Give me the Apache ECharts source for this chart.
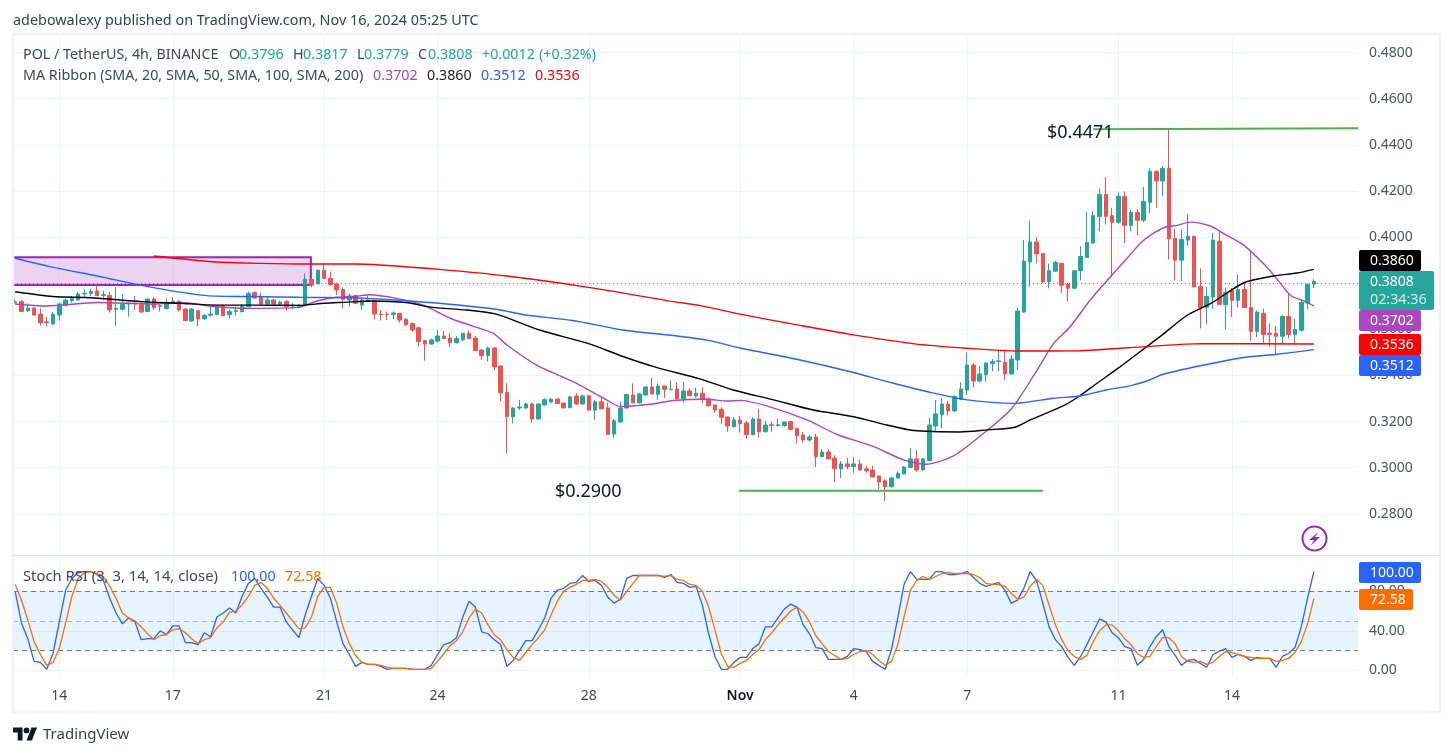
<!DOCTYPE html>
<html>
<head>
<meta charset="utf-8">
<title>POL / TetherUS 4h</title>
<script src="https://cdn.jsdelivr.net/npm/echarts@6/dist/echarts.min.js"></script>
<style>
html,body{margin:0;padding:0;background:#fff}
#chart{width:1453px;height:756px}
</style>
</head>
<body>
<div id="chart"></div>
<script>
// 4h candles, oldest first: [open, close, low, high]
const candles = [
[.3716,.3720,.3710,.3731],[.3720,.3677,.3674,.3727],[.3681,.3692,.3674,.3713],[.3692,.3662,.3660,.3698],
[.3666,.3629,.3616,.3691],[.3633,.3629,.3612,.3655],[.3623,.3666,.3620,.3675],[.3662,.3710,.3638,.3716],
[.3705,.3727,.3698,.3733],[.3724,.3733,.3716,.3745],[.3727,.3753,.3724,.3762],[.3753,.3756,.3739,.3773],
[.3756,.3765,.3745,.3776],[.3766,.3746,.3745,.3791],[.3747,.3750,.3727,.3768],[.3747,.3684,.3672,.3763],
[.3687,.3691,.3614,.3782],[.3687,.3708,.3681,.3753],[.3710,.3713,.3655,.3716],[.3713,.3710,.3684,.3745],
[.3707,.3675,.3672,.3720],[.3677,.3731,.3674,.3734],[.3731,.3694,.3684,.3739],[.3703,.3700,.3677,.3713],
[.3690,.3717,.3687,.3734],[.3716,.3721,.3710,.3739],[.3721,.3684,.3677,.3727],[.3688,.3638,.3636,.3691],
[.3636,.3688,.3632,.3691],[.3681,.3645,.3614,.3684],[.3646,.3661,.3640,.3665],[.3661,.3666,.3655,.3698],
[.3664,.3701,.3661,.3704],[.3701,.3659,.3658,.3707],[.3664,.3677,.3646,.3687],[.3678,.3681,.3661,.3698],
[.3677,.3701,.3672,.3710],[.3698,.3756,.3695,.3763],[.3759,.3736,.3733,.3765],[.3739,.3710,.3705,.3759],
[.3710,.3727,.3705,.3742],[.3727,.3710,.3705,.3731],[.3710,.3718,.3701,.3724],[.3720,.3698,.3681,.3727],
[.3701,.3705,.3687,.3713],[.3695,.3705,.3691,.3710],[.3704,.3817,.3701,.3843],[.3817,.3792,.3782,.3825],
[.3797,.3856,.3795,.3860],[.3856,.3821,.3817,.3879],[.3821,.3794,.3788,.3850],[.3797,.3771,.3749,.3802],
[.3773,.3730,.3690,.3782],[.3727,.3745,.3698,.3756],[.3747,.3713,.3710,.3749],[.3705,.3727,.3684,.3739],
[.3727,.3720,.3718,.3749],[.3723,.3666,.3643,.3727],[.3666,.3664,.3638,.3684],[.3666,.3664,.3640,.3677],
[.3665,.3671,.3643,.3678],[.3669,.3640,.3629,.3672],[.3643,.3620,.3614,.3649],[.3625,.3597,.3590,.3629],
[.3607,.3547,.3525,.3609],[.3551,.3536,.3464,.3554],[.3536,.3554,.3534,.3560],[.3549,.3571,.3542,.3597],
[.3571,.3560,.3558,.3593],[.3562,.3542,.3523,.3583],[.3542,.3560,.3539,.3571],[.3554,.3583,.3548,.3584],
[.3583,.3560,.3557,.3596],[.3562,.3508,.3506,.3571],[.3510,.3486,.3467,.3513],[.3486,.3519,.3460,.3525],
[.3519,.3437,.3421,.3525],[.3441,.3325,.3289,.3444],[.3327,.3221,.3061,.3366],[.3221,.3259,.3191,.3262],
[.3259,.3263,.3250,.3294],[.3259,.3276,.3255,.3281],[.3276,.3211,.3195,.3282],[.3211,.3276,.3210,.3278],
[.3272,.3295,.3270,.3301],[.3285,.3297,.3279,.3302],[.3298,.3278,.3276,.3301],[.3280,.3259,.3258,.3282],
[.3260,.3307,.3259,.3312],[.3311,.3276,.3273,.3323],[.3276,.3311,.3275,.3317],[.3312,.3250,.3246,.3316],
[.3250,.3286,.3207,.3294],[.3286,.3255,.3254,.3308],[.3259,.3145,.3142,.3282],[.3146,.3203,.3130,.3211],
[.3198,.3259,.3196,.3286],[.3259,.3317,.3256,.3318],[.3315,.3281,.3279,.3366],[.3281,.3320,.3279,.3325],
[.3315,.3350,.3312,.3351],[.3350,.3320,.3318,.3389],[.3318,.3354,.3294,.3366],[.3354,.3340,.3302,.3356],
[.3338,.3340,.3337,.3379],[.3341,.3298,.3297,.3369],[.3298,.3333,.3282,.3372],[.3333,.3312,.3311,.3344],
[.3311,.3323,.3304,.3347],[.3323,.3297,.3279,.3349],[.3298,.3269,.3265,.3304],[.3272,.3250,.3239,.3272],
[.3253,.3219,.3190,.3262],[.3220,.3181,.3155,.3221],[.3178,.3207,.3174,.3219],[.3207,.3191,.3152,.3224],
[.3194,.3143,.3126,.3203],[.3143,.3211,.3142,.3219],[.3211,.3156,.3130,.3255],[.3156,.3185,.3153,.3203],
[.3186,.3183,.3156,.3200],[.3183,.3186,.3178,.3211],[.3183,.3198,.3177,.3200],[.3200,.3166,.3164,.3203],
[.3169,.3138,.3107,.3174],[.3142,.3120,.3109,.3155],[.3120,.3133,.3113,.3142],[.3133,.3048,.3003,.3146],
[.3048,.3068,.3045,.3080],[.3068,.3038,.3036,.3081],[.3042,.2995,.2938,.3054],[.2995,.3016,.2955,.3029],
[.3016,.3005,.2993,.3042],[.3005,.3016,.2977,.3047],[.3016,.2990,.2987,.3034],[.2995,.2987,.2979,.3009],
[.2990,.2960,.2958,.3008],[.2964,.2938,.2906,.2965],[.2943,.2917,.2856,.2950],[.2917,.2955,.2915,.2961],
[.2955,.2976,.2953,.2984],[.2973,.3003,.2971,.3008],[.3001,.3038,.2999,.3086],[.3038,.2990,.2982,.3077],
[.2990,.3038,.2987,.3041],[.3031,.3185,.3029,.3216],[.3181,.3233,.3161,.3294],[.3229,.3276,.3172,.3301],
[.3276,.3246,.3226,.3289],[.3246,.3308,.3242,.3314],[.3297,.3341,.3294,.3370],[.3337,.3445,.3315,.3500],
[.3445,.3376,.3350,.3453],[.3376,.3406,.3369,.3441],[.3403,.3454,.3373,.3457],[.3451,.3460,.3419,.3471],
[.3460,.3463,.3419,.3510],[.3457,.3406,.3380,.3510],[.3406,.3471,.3404,.3489],[.3467,.3679,.3424,.3695],
[.3675,.3896,.3671,.3987],[.3892,.3979,.3784,.4070],[.3979,.3927,.3886,.4000],[.3928,.3805,.3801,.3931],
[.3807,.3854,.3778,.3885],[.3852,.3890,.3850,.3896],[.3886,.3791,.3758,.3888],[.3796,.3778,.3721,.3801],
[.3778,.3854,.3775,.3856],[.3854,.3916,.3812,.3960],[.3912,.3977,.3911,.4109],[.3974,.4093,.3971,.4112],
[.4090,.4185,.4025,.4210],[.4185,.4090,.4055,.4260],[.4093,.4064,.3827,.4127],[.4064,.4177,.4058,.4194],
[.4177,.4051,.3974,.4198],[.4051,.4107,.4025,.4118],[.4107,.4073,.4007,.4122],[.4073,.4155,.4065,.4217],
[.4151,.4285,.4104,.4298],[.4285,.4243,.4127,.4289],[.4243,.4298,.4177,.4307],[.4298,.3992,.3902,.4471],
[.3994,.3900,.3812,.4035],[.3900,.3989,.3810,.4032],[.3987,.4003,.3961,.4099],[.4003,.3784,.3782,.4007],
[.3786,.3694,.3604,.3864],[.3696,.3743,.3622,.3784],[.3740,.3986,.3688,.4018],[.3982,.3708,.3707,.4026],
[.3708,.3760,.3600,.3781],[.3768,.3726,.3653,.3779],[.3726,.3772,.3694,.3838],[.3773,.3695,.3694,.3805],
[.3695,.3591,.3549,.3937],[.3591,.3675,.3567,.3682],[.3669,.3578,.3538,.3690],[.3583,.3578,.3526,.3625],
[.3583,.3570,.3492,.3613],[.3570,.3656,.3538,.3661],[.3656,.3578,.3560,.3755],[.3578,.3600,.3535,.3646],
[.3596,.3717,.3594,.3729],[.3714,.3795,.3687,.3798],[.3796,.3808,.3779,.3817]
];

// Moving averages as [candle number, value]
const sma20 = [[0,.3710],[5,.3701],[13,.3716],[22,.3710],[26,.3716],[32,.3698],[38,.3691],[45,.3695],[46,.3704],[48,.3724],[51,.3739],[54,.3743],[56.2,.3750],[60.5,.3734],[64.7,.3705],[69,.3648],[72.6,.3614],[75.8,.3583],[78,.3532],[82.7,.3445],[88.5,.3373],[93.8,.3294],[96,.3265],[100.7,.3275],[104.4,.3291],[109.7,.3297],[112.9,.3289],[115,.3292],[119.2,.3268],[125.6,.3207],[130.3,.3145],[136.2,.3091],[140.9,.3034],[144.6,.3015],[148.9,.3052],[153.6,.3149],[158.1,.3258],[162.3,.3432],[164.7,.3538],[167.3,.3610],[170.5,.3726],[173.7,.3827],[176.3,.3906],[179,.3986],[182.2,.4041],[184.3,.4051],[186.4,.4065],[189.6,.4048],[191.7,.4015],[194.9,.3964],[198,.3885],[200.1,.3820],[202.3,.3747],[204.4,.3723],[206,.3702]];
const sma50 = [[0,.3763],[6,.3742],[12,.3737],[20,.3720],[26,.3713],[32,.3705],[38,.3705],[45,.3704],[49,.3713],[52,.3717],[56.8,.3723],[62,.3716],[66.2,.3695],[71.6,.3684],[76.3,.3666],[83.2,.3597],[91.2,.3536],[96.4,.3482],[101.7,.3435],[108.6,.3385],[113.9,.3337],[120.3,.3294],[126.6,.3250],[133,.3221],[138.3,.3185],[142.5,.3161],[149.9,.3155],[154.2,.3164],[158.4,.3174],[161,.3207],[166.3,.3269],[168.9,.3312],[171.6,.3366],[175.3,.3438],[179.5,.3525],[181.9,.3575],[185.9,.3661],[189.6,.3711],[194.9,.3802],[199.6,.3831],[203.3,.3844],[206,.3860]];
const sma100 = [[0,.3908],[5.5,.3872],[13.4,.3829],[21,.3785],[30.4,.3746],[37.8,.3742],[45,.3739],[52.6,.3737],[55.8,.3734],[62,.3724],[67.3,.3713],[76.3,.3687],[81,.3662],[88.5,.3638],[96.4,.3597],[104.4,.3573],[109.7,.3553],[115,.3519],[124.5,.3467],[132.5,.3416],[139.3,.3366],[145.7,.3323],[151,.3294],[158.4,.3279],[161,.3286],[164.7,.3301],[168.9,.3311],[173.1,.3337],[176.8,.3355],[179.5,.3376],[182.1,.3405],[188,.3442],[194.9,.3478],[200.1,.3492],[203.3,.3502],[206,.3512]];
const sma200 = [[22,.3918],[31.4,.3893],[38.8,.3886],[46.8,.3883],[54,.3883],[57.8,.3879],[67.3,.3860],[78,.3831],[91.2,.3781],[104.4,.3720],[108.7,.3703],[115,.3666],[124.5,.3617],[132.5,.3578],[143,.3536],[151,.3518],[159,.3506],[168.9,.3507],[175.3,.3518],[179.5,.3525],[188,.3538],[206,.3536]];

// Stochastic RSI, one value per candle
const stochK = [80,48,32,9,8,1,17,49,81,93,99,100,100,97,91,73,58,47,53,49,31,32,32,40,36,45,45,28,28,26,38,34,54,58,63,58,75,88,93,83,74,64,64,49,41,33,56,75,93,86,73,49,27,16,4,8,6,6,4,1,2,2,2,1,1,1,5,16,26,28,33,54,70,64,39,37,31,26,4,10,20,30,30,41,53,73,81,83,88,89,96,90,91,86,74,68,72,93,96,96,96,96,96,94,97,89,88,84,85,66,37,14,1,1,8,13,13,22,27,44,44,53,62,67,64,46,37,23,22,11,11,11,14,22,21,19,9,5,1,21,53,87,100,92,92,92,100,100,97,97,98,100,94,88,85,87,89,81,68,71,83,100,91,68,44,31,24,13,5,14,26,39,52,49,38,33,24,22,5,11,24,34,41,24,15,5,10,11,7,3,16,19,22,13,16,14,10,13,12,12,3,14,17,23,44,73,100];
const stochD = [87,71,51,29,16,5,8,22,48,75,93,99,100,98,95,85,73,58,53,50,44,37,31,35,36,41,42,38,32,27,31,33,43,49,59,60,66,75,86,89,83,73,66,58,50,42,43,54,75,84,84,68,44,27,15,8,6,6,5,3,2,2,2,1,1,1,2,9,17,25,30,39,53,62,58,46,36,31,21,13,10,18,26,33,41,56,70,80,84,87,91,91,92,90,84,76,71,80,88,96,96,96,96,95,96,92,91,87,86,80,64,41,17,4,3,7,10,16,21,31,38,46,53,60,64,59,49,35,27,19,15,11,12,16,19,20,16,10,5,9,26,54,81,91,95,92,95,98,99,98,98,98,97,94,88,87,87,85,78,72,74,85,92,86,66,46,31,20,14,11,15,29,40,46,46,40,32,26,17,13,14,24,33,33,27,14,9,8,9,6,8,14,19,18,16,14,13,12,12,12,9,10,12,18,29,47,72.58];

// Labelled swing levels and the supply zone
const highLevel = 0.4471;
const lowLevel = 0.2900;
const highLevelLine = [[171,.4468],[213,.4472]];
const lowLevelLine = [[114.8,.2900],[163,.2900]];
const zoneTop = 0.3912, zoneBottom = 0.3792, zoneEnd = 46.9;

// Axes
const dayTicks = [7,25,49,67,91,115,133,151,175,193];
const dayLabels = ['14','17','21','24','28','Nov','4','7','11','14'];
const priceTicks = [.28,.30,.32,.34,.36,.38,.40,.42,.44,.46,.48];
const stochTicks = [0,40,80];
const lastPrice = 0.3808;

// Readouts
const ohlcText = ['0.3796','0.3817','0.3779','0.3808'];
const maText = ['0.3702','0.3860','0.3512','0.3536'];

const GREEN='#26a69a',RED='#ef5350',FONT='"Noto Sans",sans-serif',INK='#434651';
const chart = echarts.init(document.getElementById('chart'),null,{renderer:'canvas'});

const txt=(x,y,text,fill,size,extra)=>Object.assign({type:'text',z:50,x,y,style:{text,fill,font:`${size||14}px ${FONT}`,textVerticalAlign:'middle'}},extra||{});
const tag=(x,y,w,h,fill)=>({type:'rect',z:40,shape:{x,y,width:w,height:h,r:2},style:{fill}});

const graphics=[
  {type:'rect',z:30,shape:{x:13,y:34,width:1427,height:678},style:{fill:'none',stroke:'#f0f1f8',lineWidth:2.5}},
  {type:'line',z:30,shape:{x1:13,y1:555.5,x2:1440,y2:555.5},style:{stroke:'#e0e3eb',lineWidth:1}},
  txt(13,20.5,'adebowalexy published on TradingView.com, Nov 16, 2024 05:25 UTC','#3c3f48',14.4),
  txt(23,54.5,'POL / TetherUS, 4h, BINANCE',INK,14.3),
  txt(229,54.5,'O',INK,14.3),txt(239,54.5,ohlcText[0],GREEN,14.3),
  txt(293,54.5,'H',INK,14.3),txt(303,54.5,ohlcText[1],GREEN,14.3),
  txt(357,54.5,'L',INK,14.3),txt(364,54.5,ohlcText[2],GREEN,14.3),
  txt(418,54.5,'C',INK,14.3),txt(428,54.5,ohlcText[3],GREEN,14.3),
  txt(482,54.5,'+0.0012',GREEN,14.3),txt(539,54.5,'(+0.32%)',GREEN,14.3),
  txt(23,75.5,'MA Ribbon (SMA, 20, SMA, 50, SMA, 100, SMA, 200)',INK,14.3),
  txt(373,75.5,maText[0],'#ab47bc',14.3),txt(427,75.5,maText[1],'#222',14.3),txt(481,75.5,maText[2],'#2962ff',14.3),txt(535,75.5,maText[3],'#ff0000',14.3),
  txt(23,576.5,'Stoch RSI (3, 3, 14, 14, close)',INK,14.8),
  txt(231,576.5,'100.00','#2962ff',14.3),txt(285,576.5,'72.58','#ff6d00',14.3),
  txt(1047,133,'$'+highLevel.toFixed(4),'#131722',18),
  txt(555,492,'$'+lowLevel.toFixed(4),'#131722',18),
  // price tags
  tag(1359,250,62,21,'#000'),txt(1370,261,maText[1],'#fff'),
  tag(1359,271,75,39,GREEN),txt(1370,282,ohlcText[3],'#fff'),txt(1370,299.5,'02:34:36','#cdeee9',14.3),
  tag(1359,310,62,21,'#ab47bc'),txt(1370,321,maText[0],'#fff'),
  tag(1359,334,62,21,'#ff0000'),txt(1370,345,maText[3],'#fff'),
  tag(1359,355,62,21,'#2962ff'),txt(1370,366,maText[2],'#fff'),
  tag(1359,562,62,21,'#2962ff'),txt(1370,573,'100.00','#fff'),
  tag(1359,589,54,21,'#ff6d00'),txt(1370,600,'72.58','#fff'),
  // bolt badge
  {type:'circle',z:30,shape:{cx:1314.5,cy:538.5,r:12},style:{fill:'#fff',stroke:'#9c27b0',lineWidth:2}},
  {type:'polygon',z:31,shape:{points:[[1318.5,532],[1309,540],[1314,540],[1311,545.5],[1320,537],[1315,537]]},style:{fill:'#9c27b0'}},
  // footer mark
  {type:'polygon',z:30,shape:{points:[[22.5,740.5],[17.7,740.5],[17.7,732.6],[13,732.6],[13,727.5],[22.5,727.5]]},style:{fill:'#131722'}},
  {type:'polygon',z:30,shape:{points:[[31.9,740.5],[26.5,740.5],[31.6,727.5],[37,727.5]]},style:{fill:'#131722'}},
  {type:'circle',z:30,shape:{cx:26.5,cy:730.4,r:2.9},style:{fill:'#131722'}},
  txt(43,734.5,'TradingView','#3c3f48',15)
];

const gridLine={show:true,lineStyle:{color:'#f0f3fa',width:1}};
const maLine=(name,data,color)=>({name,type:'line',data,xAxisIndex:0,yAxisIndex:0,showSymbol:false,symbol:'none',smooth:0.25,z:4,lineStyle:{color,width:1.4},silent:true});
const level=(data)=>({type:'line',data,xAxisIndex:0,yAxisIndex:0,showSymbol:false,symbol:'none',z:5,lineStyle:{color:'#4caf50',width:2},silent:true});
const dash=(v,color)=>({yAxis:v,lineStyle:{color,type:[5,4],width:1}});

chart.setOption({
  animation:false,
  backgroundColor:'#fff',
  graphic:graphics,
  grid:[
    {left:13,top:34.5,width:1345,height:520.5},
    {left:13,top:555.5,width:1345,height:121.5}
  ],
  xAxis:[0,1].map(k=>({
    type:'value',gridIndex:k,min:-0.345,max:213,
    axisLine:{show:false},
    axisTick:{show:false,customValues:dayTicks},
    splitLine:gridLine,
    axisLabel:k===0?{show:false,customValues:dayTicks}:{
      show:true,customValues:dayTicks,margin:12,
      fontFamily:FONT,fontSize:14,color:'#434651',
      formatter:v=>{const s=dayLabels[dayTicks.indexOf(v)]||'';return s==='Nov'?'{month|Nov}':s;},
      rich:{month:{fontFamily:FONT,fontSize:14,fontWeight:600,color:'#131722'}}
    }
  })),
  yAxis:[
    {type:'value',gridIndex:0,position:'right',min:.26213,max:.48785,scale:true,
     axisLine:{show:false},axisTick:{show:false,customValues:priceTicks},splitLine:gridLine,
     axisLabel:{customValues:priceTicks,margin:11,fontFamily:FONT,fontSize:14,color:'#50535e',formatter:v=>v.toFixed(4),hideOverlap:false}},
    {type:'value',gridIndex:1,position:'right',min:-6.8,max:116.25,
     axisLine:{show:false},axisTick:{show:false,customValues:stochTicks},splitLine:gridLine,
     axisLabel:{customValues:stochTicks,margin:11,fontFamily:FONT,fontSize:14,color:'#50535e',formatter:v=>v.toFixed(2),hideOverlap:false}}
  ],
  series:[
    {type:'line',data:[],xAxisIndex:0,yAxisIndex:0,z:1,silent:true,
     markArea:{silent:true,z:1,itemStyle:{color:'rgba(156,39,176,0.2)',borderColor:'#9c27b0',borderWidth:2},
       data:[[{coord:[-3,zoneTop]},{coord:[zoneEnd,zoneBottom]}]]}},
    maLine('SMA 20',sma20,'#ab47bc'),
    maLine('SMA 50',sma50,'#000000'),
    maLine('SMA 100',sma100,'#2962ff'),
    maLine('SMA 200',sma200,'#ff0000'),
    {type:'candlestick',xAxisIndex:0,yAxisIndex:0,z:3,barWidth:4,silent:true,
     data:candles.map((c,i)=>[i,...c]),
     encode:{x:0,y:[1,2,3,4]},
     itemStyle:{color:GREEN,color0:RED,borderColor:GREEN,borderColor0:RED,borderWidth:1},
     markLine:{silent:true,symbol:'none',label:{show:false},z:2,
       lineStyle:{color:GREEN,type:[1,3],width:1},data:[{yAxis:lastPrice}]}},
    level(highLevelLine),
    level(lowLevelLine),
    {type:'line',name:'K',data:stochK.map((v,i)=>[i,v]),xAxisIndex:1,yAxisIndex:1,showSymbol:false,symbol:'none',z:4,silent:true,
     lineStyle:{color:'#2962ff',width:1.3},
     markArea:{silent:true,z:1,itemStyle:{color:'rgba(33,150,243,0.11)'},data:[[{yAxis:80},{yAxis:20}]]},
     markLine:{silent:true,symbol:'none',label:{show:false},z:2,data:[dash(80,'#787b86'),dash(50,'#b2b5be'),dash(20,'#787b86')]}},
    {type:'line',name:'D',data:stochD.map((v,i)=>[i,v]),xAxisIndex:1,yAxisIndex:1,showSymbol:false,symbol:'none',z:5,silent:true,
     lineStyle:{color:'#ff6d00',width:1.3}}
  ]
});
</script>
</body>
</html>
